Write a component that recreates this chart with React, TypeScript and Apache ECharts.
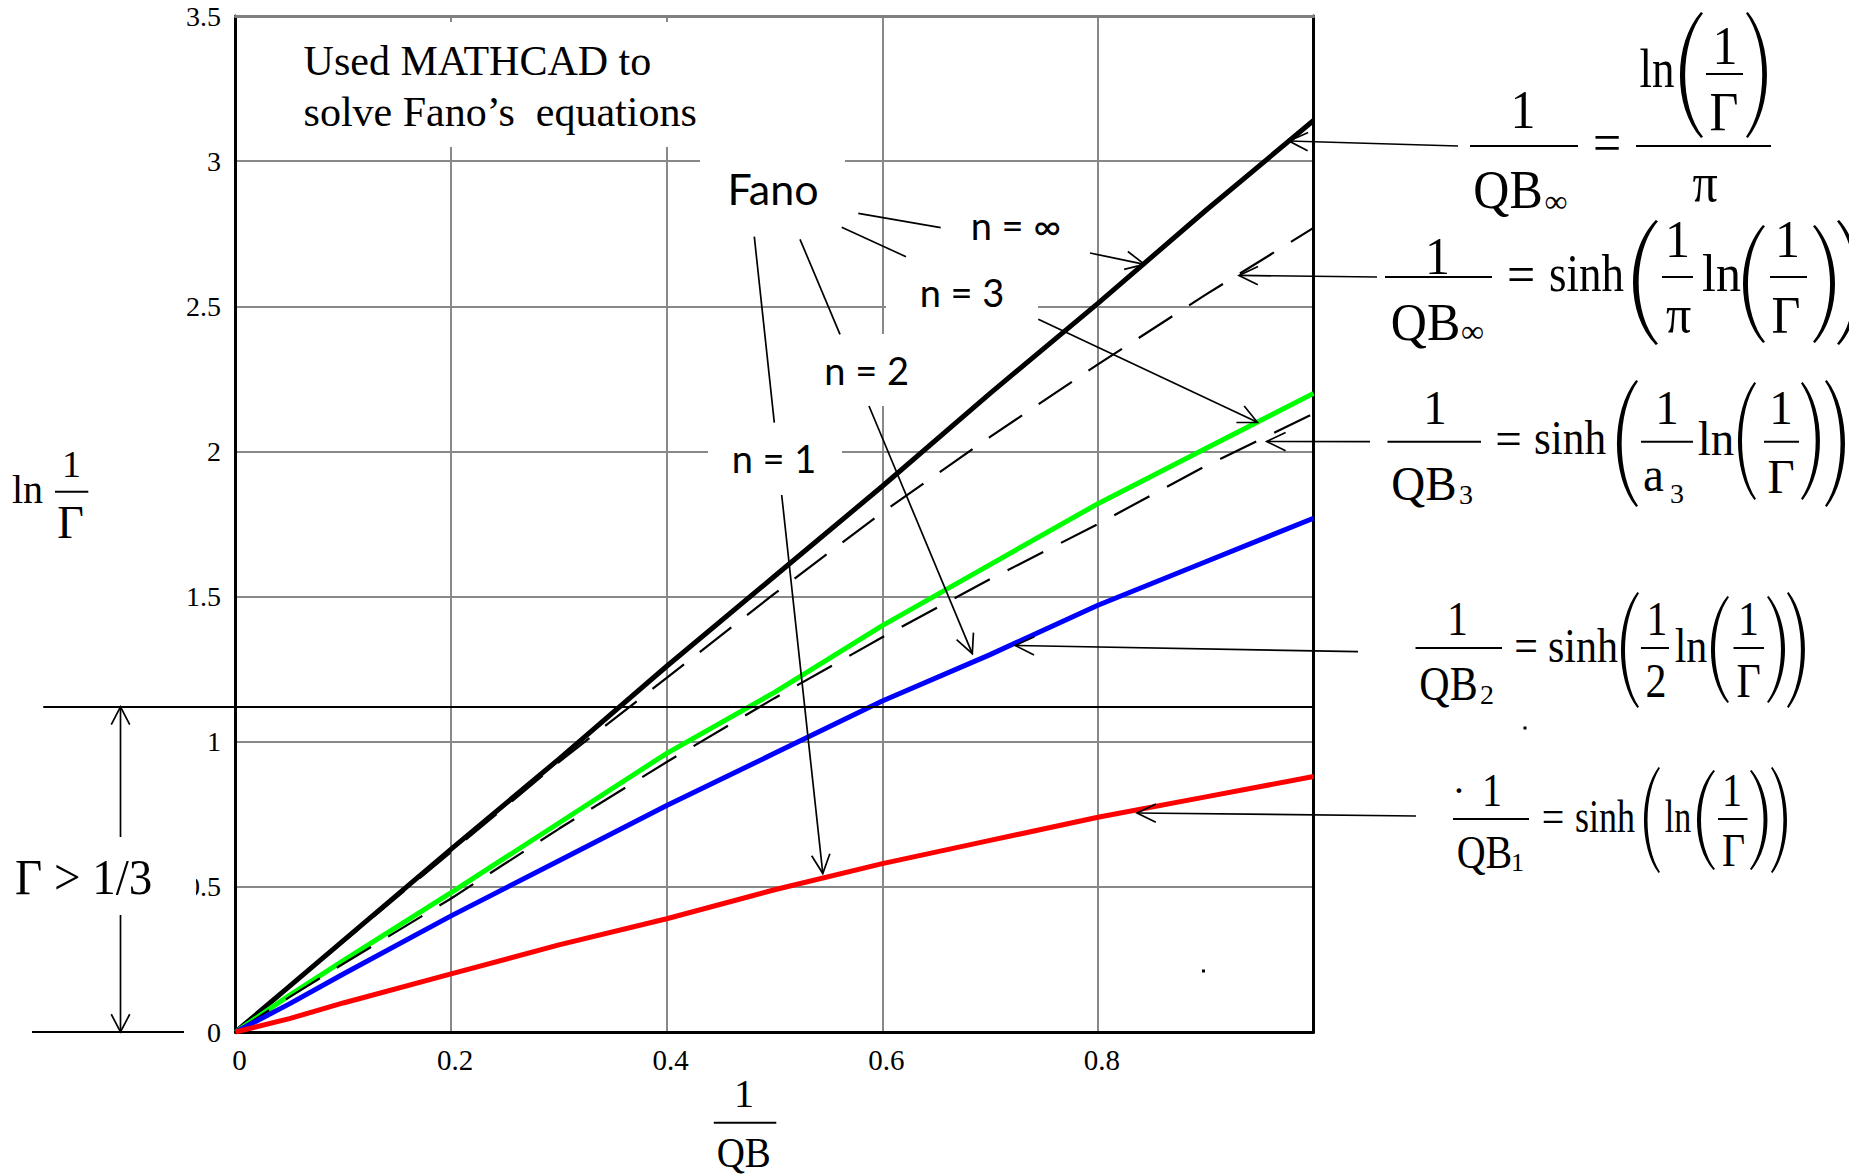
import React, { useEffect, useRef } from "react";
import * as echarts from "echarts";

// ---- data ----
const xValues = [0, 0.05, 0.1, 0.2, 0.3, 0.4, 0.5, 0.6, 0.7, 0.8, 0.9, 1.0];
const fanoInf = [0, 0.157, 0.315, 0.63, 0.94, 1.26, 1.57, 1.88, 2.2, 2.51, 2.83, 3.14];
const sinhInf = [0, 0.156, 0.31, 0.62, 0.93, 1.22, 1.51, 1.79, 2.05, 2.3, 2.54, 2.77];
const fanoN3 = [0, 0.126, 0.246, 0.48, 0.72, 0.96, 1.17, 1.4, 1.61, 1.82, 2.01, 2.2];
const sinhN3 = [0, 0.12, 0.235, 0.46, 0.7, 0.93, 1.15, 1.36, 1.56, 1.75, 1.95, 2.13];
const fanoN2 = [0, 0.097, 0.2, 0.4, 0.59, 0.78, 0.96, 1.14, 1.3, 1.47, 1.62, 1.77];
const fanoN1 = [0, 0.046, 0.1, 0.2, 0.3, 0.39, 0.49, 0.58, 0.66, 0.74, 0.81, 0.88];
const xTickLabels = ["0", "0.2", "0.4", "0.6", "0.8", ""];
const yTickLabels = ["0", "0.5", "1", "1.5", "2", "2.5", "3", "3.5"];
const gammaThirdLevel = 1.12;

const SERIF = '"Liberation Serif", "Times New Roman", serif';
const SANS = 'Lato, "Open Sans", sans-serif';

// parenthesis outlines (unit box ~ 0..24 x 0..100)
echarts.graphic.registerShape(
  "lparen",
  echarts.graphic.extendPath("M22 0 C-5 25 -5 75 22 100 L24 99 C1 75 1 25 24 1 Z", {})
);
echarts.graphic.registerShape(
  "rparen",
  echarts.graphic.extendPath("M2 0 C29 25 29 75 2 100 L0 99 C23 75 23 25 0 1 Z", {})
);

type TOpt = { sy?: number; sx?: number; d?: number; family?: string; align?: string };
function txt(text: string, cx: number, cy: number, size: number, opt: TOpt = {}) {
  const sy = opt.sy ?? 1;
  const sx = opt.sx ?? 1;
  const d = opt.d ?? 0;
  const align = opt.align ?? "center";
  return {
    type: "text",
    x: cx,
    y: cy - d * size * sy,
    scaleX: sx,
    scaleY: sy,
    z: 40,
    silent: true,
    style: {
      text,
      x: 0,
      y: 0,
      fill: "#000",
      fontSize: size,
      fontFamily: opt.family ?? SERIF,
      align,
      verticalAlign: "middle",
      textAlign: align,
      textVerticalAlign: "middle",
    },
  };
}
function seg(x1: number, y1: number, x2: number, y2: number, w = 1.7, color = "#000") {
  return { type: "line", z: 40, silent: true, shape: { x1, y1, x2, y2 }, style: { stroke: color, lineWidth: w } };
}
function bar(x1: number, x2: number, y: number) {
  return seg(x1, y, x2, y, 2);
}
function arrow(x1: number, y1: number, x2: number, y2: number, len = 21, ang = 0.45, w = 1.7) {
  const a = Math.atan2(y2 - y1, x2 - x1);
  const p1 = [x2 - len * Math.cos(a - ang), y2 - len * Math.sin(a - ang)];
  const p2 = [x2 - len * Math.cos(a + ang), y2 - len * Math.sin(a + ang)];
  return [
    seg(x1, y1, x2, y2, w),
    { type: "polyline", z: 40, silent: true, shape: { points: [p1, [x2, y2], p2] }, style: { stroke: "#000", lineWidth: w, fill: "none" } },
  ];
}
function paren(side: "l" | "r", x0: number, x1: number, top: number, bottom: number) {
  const sx = (x1 - x0) / 22.25;
  const sy = (bottom - top) / 100;
  const ox = side === "l" ? 1.75 : 0;
  return {
    type: side === "l" ? "lparen" : "rparen",
    x: x0 - ox * sx,
    y: top,
    scaleX: sx,
    scaleY: sy,
    z: 40,
    silent: true,
    style: { fill: "#000" },
  };
}
function box(x: number, y: number, w: number, h: number) {
  return { type: "rect", z: 35, silent: true, shape: { x, y, width: w, height: h }, style: { fill: "#fff" } };
}
function dot(x: number, y: number) {
  return { type: "rect", z: 40, silent: true, shape: { x: x - 1.5, y: y - 1.5, width: 3, height: 3 }, style: { fill: "#000" } };
}

function buildGraphics(yLevel: number, yZero: number, xRight: number) {
  const els: any[] = [];
  // white label backgrounds
  els.push(box(290, 22, 430, 125));
  els.push(box(700, 148, 145, 66));
  els.push(box(965, 210, 100, 36));
  els.push(box(886, 268, 152, 52));
  els.push(box(812, 334, 110, 72));
  els.push(box(708, 428, 134, 60));
  els.push(box(0, 845, 196, 65));

  // note
  els.push(txt("Used MATHCAD to", 303.6, 60.8, 42, { align: "left" }));
  els.push(txt("solve Fano\u2019s  equations", 303.6, 111.8, 42, { align: "left" }));

  // Fano labels
  els.push(txt("Fano", 773, 188.4, 43, { family: SANS }));
  els.push(txt("n = \u221E", 1016, 225.3, 38, { family: SANS }));
  els.push(txt("n = 3", 962, 292, 38, { family: SANS }));
  els.push(txt("n = 2", 866.7, 370.3, 38, { family: SANS }));
  els.push(txt("n = 1", 774, 458.3, 38, { family: SANS }));
  els.push(seg(858.3, 213.3, 940.7, 227.7));
  els.push(seg(841.7, 227.3, 906, 256.7));
  els.push(seg(800, 239.3, 840, 334.3));
  els.push(seg(754.3, 236.7, 774.3, 422.7));
  els.push(...arrow(1090, 253, 1144.5, 264.3));
  els.push(...arrow(1038.3, 319.3, 1257.4, 422.3));
  els.push(...arrow(869, 406, 972.3, 653.6));
  els.push(...arrow(781.7, 495, 822.8, 873.5));

  // formula arrows
  els.push(...arrow(1458, 146, 1289, 141));
  els.push(...arrow(1377, 277, 1239, 275.4));
  els.push(...arrow(1370, 441.7, 1266.7, 441.5));
  els.push(...arrow(1358, 651.7, 1015.3, 645.5));
  els.push(...arrow(1416, 816, 1137, 813));

  // Formula 1: 1/QB_inf = ln(1/Γ)/π
  {
    const F = 50, S = 1.08;
    els.push(txt("1", 1523, 110, F, { sy: S }));
    els.push(bar(1470, 1578, 146));
    els.push(txt("QB", 1508, 190, F, { sy: S }));
    els.push(txt("\u221E", 1556, 204, 32, { d: 0.09 }));
    els.push(txt("=", 1607, 146, F, { sy: S, d: 0.0675 }));
    els.push(bar(1636, 1771, 146));
    els.push(txt("ln", 1657, 69, F, { sy: S, sx: 0.9 }));
    els.push(paren("l", 1680, 1703, 12, 138));
    els.push(txt("1", 1725, 46, F, { sy: S }));
    els.push(bar(1706, 1743, 74));
    els.push(txt("\u0393", 1724, 111.5, F, { sy: S }));
    els.push(paren("r", 1746, 1767, 12, 138));
    els.push(txt("\u03C0", 1705, 188.5, F, { sy: S, d: 0.11 }));
  }
  // Formula 2: 1/QB_inf = sinh(1/π ln(1/Γ))
  {
    const F = 50, S = 1.05;
    els.push(txt("1", 1437.5, 256.5, F, { sy: S }));
    els.push(bar(1385, 1492, 277));
    els.push(txt("QB", 1425.5, 322.5, F, { sy: S }));
    els.push(txt("\u221E", 1472.5, 334, 32, { d: 0.09 }));
    els.push(txt("=", 1521, 277.5, F, { sy: S, d: 0.0675 }));
    els.push(txt("sinh", 1586.5, 273.5, F, { sy: S, sx: 0.9 }));
    els.push(paren("l", 1633, 1658, 220, 345));
    els.push(txt("1", 1677.5, 239, F, { sy: S }));
    els.push(bar(1662, 1693, 277));
    els.push(txt("\u03C0", 1678.5, 320, F, { sy: S, d: 0.11 }));
    els.push(txt("ln", 1721.5, 273.5, F, { sy: S }));
    els.push(paren("l", 1743, 1765, 225, 343));
    els.push(txt("1", 1787.5, 239, F, { sy: S }));
    els.push(bar(1770, 1807, 277));
    els.push(txt("\u0393", 1786, 315, F, { sy: S }));
    els.push(paren("r", 1813, 1835, 225, 343));
    els.push(paren("r", 1837, 1860, 220, 345));
  }
  // Formula 3: 1/QB_3 = sinh(1/a3 ln(1/Γ))
  {
    const F = 47, S = 1.04;
    els.push(txt("1", 1435, 407.5, F, { sy: S }));
    els.push(bar(1387.5, 1481, 441.7));
    els.push(txt("QB", 1424, 483.5, F, { sy: S }));
    els.push(txt("3", 1466, 494.5, 28));
    els.push(txt("=", 1508.5, 441, F, { sy: S, d: 0.0675 }));
    els.push(txt("sinh", 1570, 438, F, { sy: S, sx: 0.92 }));
    els.push(paren("l", 1617, 1638, 380, 507));
    els.push(txt("1", 1667, 407.5, F, { sy: S }));
    els.push(bar(1641, 1693, 441.7));
    els.push(txt("a", 1653.5, 479.5, F, { sy: S, d: 0.11 }));
    els.push(txt("3", 1677, 493.5, 28));
    els.push(txt("ln", 1716, 438, F, { sy: S }));
    els.push(paren("l", 1738, 1756, 382, 500));
    els.push(txt("1", 1781, 407.5, F, { sy: S }));
    els.push(bar(1764, 1799, 441.7));
    els.push(txt("\u0393", 1781, 476, F, { sy: S }));
    els.push(paren("r", 1801, 1820, 382, 500));
    els.push(paren("r", 1825, 1845, 380, 507));
  }
  // Formula 4: 1/QB_2 = sinh(1/2 ln(1/Γ))
  {
    const F = 42, S = 1.18;
    els.push(txt("1", 1457.5, 618.5, F, { sy: S }));
    els.push(bar(1415.5, 1502, 648));
    els.push(txt("QB", 1448.5, 683.5, F, { sy: S }));
    els.push(txt("2", 1487, 694, 28));
    els.push(txt("=", 1526, 648.5, F, { sy: S, d: 0.0675 }));
    els.push(txt("sinh", 1583, 645.5, F, { sy: S }));
    els.push(paren("l", 1621, 1639, 592, 708));
    els.push(txt("1", 1657, 618.5, F, { sy: S }));
    els.push(bar(1641, 1669, 648));
    els.push(txt("2", 1656, 680, F, { sy: S }));
    els.push(txt("ln", 1691, 645.5, F, { sy: S }));
    els.push(paren("l", 1711, 1729, 596, 703));
    els.push(txt("1", 1748.5, 618.5, F, { sy: S }));
    els.push(bar(1733.5, 1764, 648));
    els.push(txt("\u0393", 1748.7, 680, F, { sy: S }));
    els.push(paren("r", 1767, 1785, 596, 703));
    els.push(paren("r", 1787, 1805, 592, 708));
  }
  // Formula 5: 1/QB_1 = sinh(ln(1/Γ))
  {
    const F = 40, S = 1.18;
    els.push(txt("\u00B7", 1459, 794, F, { d: 0.09 }));
    els.push(txt("1", 1492, 790, F, { sy: S }));
    els.push(bar(1453, 1529, 819));
    els.push(txt("QB", 1484.5, 851.5, F, { sy: S }));
    els.push(txt("1", 1517.5, 862.5, 26));
    els.push(txt("=", 1553, 819.5, F, { sy: S, d: 0.0675 }));
    els.push(txt("sinh", 1605, 816, F, { sy: S, sx: 0.9 }));
    els.push(paren("l", 1644, 1660, 767, 873));
    els.push(txt("ln", 1678, 816, F, { sy: S, sx: 0.85 }));
    els.push(paren("l", 1697, 1715, 770, 870));
    els.push(txt("1", 1732, 790, F, { sy: S }));
    els.push(bar(1718, 1747.5, 819));
    els.push(txt("\u0393", 1733.5, 849.5, F, { sy: S }));
    els.push(paren("r", 1750, 1767.5, 770, 870));
    els.push(paren("r", 1771, 1787, 767, 873));
  }
  els.push(dot(1525, 728));
  els.push(dot(1203.5, 971));

  // axis titles
  els.push(txt("ln", 27.5, 489, 40));
  els.push(txt("1", 71.5, 464, 38));
  els.push(seg(55, 491.7, 88.3, 491.7, 2));
  els.push(txt("\u0393", 70.5, 522, 46));
  els.push(txt("1", 744, 1093.5, 40));
  els.push(seg(713.8, 1122.7, 776.3, 1122.7, 2));
  els.push(txt("QB", 743.8, 1153, 39, { sy: 1.06 }));

  // Γ > 1/3 marker
  els.push(seg(43.3, yLevel, xRight, yLevel, 2));
  els.push(seg(32, yZero, 184, yZero, 2));
  els.push(...arrow(120.5, 837, 120.5, yLevel, 20, 0.48, 1.7));
  els.push(...arrow(120.5, 915, 120.5, yZero, 20, 0.48, 1.7));
  els.push(txt("\u0393 > 1/3", 83.7, 876.7, 47, { sy: 1.06 }));
  return els;
}

function mkSeries(name: string, values: number[], color: string, width: number, dashed: boolean) {
  return {
    name,
    type: "line",
    data: xValues.map((x, i) => [x, values[i]]),
    showSymbol: false,
    symbol: "none",
    smooth: false,
    clip: true,
    lineStyle: { color, width, type: dashed ? [40, 20] : "solid" },
    z: 3,
  };
}

export default function App() {
  const ref = useRef<HTMLDivElement>(null);
  useEffect(() => {
    if (!ref.current) return;
    const chart = echarts.init(ref.current, undefined, { renderer: "svg" });
    const option: any = {
      animation: false,
      backgroundColor: "#fff",
      grid: { left: 235.5, right: 535.5, top: 16, bottom: 144, containLabel: false },
      xAxis: [
        {
          type: "value",
          min: 0,
          max: 1,
          interval: 0.2,
          position: "bottom",
          axisLine: { show: true, onZero: false, lineStyle: { color: "#000", width: 3 } },
          axisTick: { show: false },
          axisLabel: {
            margin: 13,
            fontFamily: SERIF,
            fontSize: 29,
            color: "#000",
            padding: [0, 0, 0, 8],
            formatter: (v: number) => xTickLabels[Math.round(v / 0.2)] ?? "",
          },
          splitLine: { show: true, lineStyle: { color: "#888", width: 2 } },
        },
        {
          type: "value",
          min: 0,
          max: 1,
          position: "top",
          axisLine: { show: true, onZero: false, lineStyle: { color: "#808080", width: 3 } },
          axisTick: { show: false },
          axisLabel: { show: false },
          splitLine: { show: false },
        },
      ],
      yAxis: [
        {
          type: "value",
          min: 0,
          max: 3.5,
          interval: 0.5,
          position: "left",
          axisLine: { show: true, onZero: false, lineStyle: { color: "#000", width: 3 } },
          axisTick: { show: false },
          axisLabel: {
            margin: 14.5,
            fontFamily: SERIF,
            fontSize: 28,
            color: "#000",
            padding: [6, 0, 0, 0],
            formatter: (v: number) => yTickLabels[Math.round(v / 0.5)] ?? "",
          },
          splitLine: { show: true, lineStyle: { color: "#888", width: 2 } },
        },
        {
          type: "value",
          min: 0,
          max: 3.5,
          position: "right",
          axisLine: { show: true, onZero: false, lineStyle: { color: "#000", width: 3 } },
          axisTick: { show: false },
          axisLabel: { show: false },
          splitLine: { show: false },
        },
      ],
      series: [
        mkSeries("Fano n=\u221E", fanoInf, "#000000", 5, false),
        mkSeries("sinh n=\u221E", sinhInf, "#000000", 2.2, true),
        mkSeries("Fano n=3", fanoN3, "#00ff00", 5, false),
        mkSeries("sinh n=3", sinhN3, "#000000", 2.2, true),
        mkSeries("Fano n=2", fanoN2, "#0000ff", 5, false),
        mkSeries("Fano n=1", fanoN1, "#ff0000", 5, false),
      ],
    };
    chart.setOption(option);
    const yLevel = chart.convertToPixel({ yAxisIndex: 0 }, gammaThirdLevel) as number;
    const yZero = chart.convertToPixel({ yAxisIndex: 0 }, 0) as number;
    const xRight = chart.convertToPixel({ xAxisIndex: 0 }, 1) as number;
    chart.setOption({ graphic: { elements: buildGraphics(yLevel, yZero, xRight) } });
    return () => chart.dispose();
  }, []);
  return (
    <div
      ref={ref}
      style={{ position: "fixed", left: 0, top: 0, width: "1849px", height: "1176px", background: "#fff" }}
    />
  );
}
